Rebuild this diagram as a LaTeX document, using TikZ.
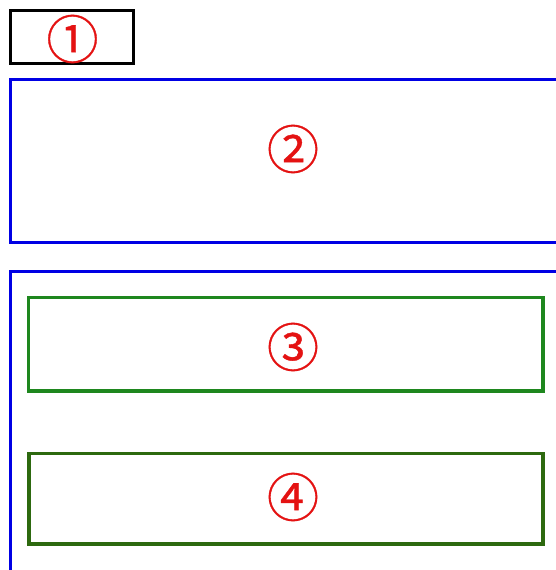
\documentclass[tikz,border=0pt]{standalone}
\usepackage{fontspec}
\newfontfamily\numfont[FakeBold=0.7]{Noto Sans CJK SC}
\definecolor{framered}{RGB}{228,18,18}
\definecolor{frameblue}{RGB}{0,0,228}
\definecolor{boxgreen}{RGB}{30,135,30}
\definecolor{boxdarkgreen}{RGB}{45,105,15}
\tikzset{
  panel/.style={draw, inner sep=0pt, fill=none},
  mark label/.style={text=framered, inner sep=0pt, font=\numfont\fontsize{52}{52}\selectfont}
}
\begin{document}
\begin{tikzpicture}[x=1pt,y=-1pt]
  \useasboundingbox (0,0) rectangle (556,570);
  \fill[white] (0,0) rectangle (556,570);
  \clip (0,0) rectangle (556,570);
  % small black frame
  \node[panel, draw=black, line width=3pt, minimum width=123pt, minimum height=53pt] (b1) at (72,37) {};
  % blue frames, running off the right and bottom edges
  \node[panel, draw=frameblue, line width=3pt, minimum width=590pt, minimum height=163.5pt] (b2) at (305.5,160.75) {};
  \node[panel, draw=frameblue, line width=3pt, minimum width=590pt, minimum height=350pt] (b3) at (305.5,446.5) {};
  % green boxes inside the lower frame
  \node[panel, draw=boxgreen, line width=3.5pt, minimum width=514.5pt, minimum height=93.5pt] (g3) at (285.75,344.25) {};
  \node[panel, draw=boxdarkgreen, line width=3.5pt, minimum width=514pt, minimum height=90.5pt] (g4) at (286,498.75) {};
  % circled numbers
  \node[mark label] (n1) at (72.5,39) {①};
  \node[mark label] (n2) at (293,149) {②};
  \node[mark label] (n3) at (293,347) {③};
  \node[mark label] (n4) at (293,497) {④};
\end{tikzpicture}
\end{document}
